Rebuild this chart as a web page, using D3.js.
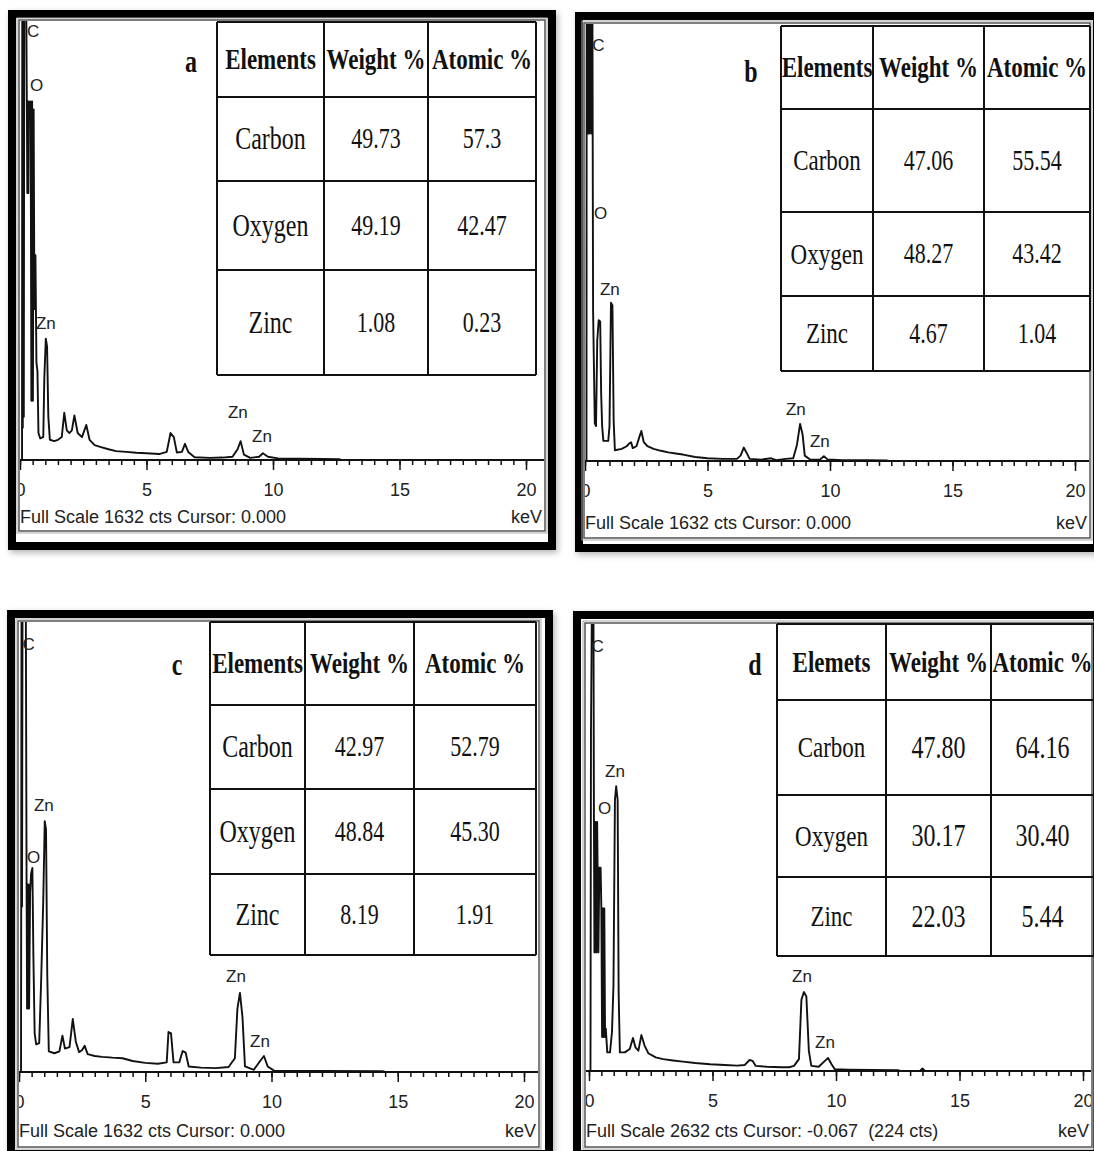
<!DOCTYPE html>
<html>
<head>
<meta charset="utf-8">
<script src="https://cdn.jsdelivr.net/npm/d3@7"></script>
<style>
  body { margin: 0; background: #fff; }
  svg { display: block; }
</style>
</head>
<body>
<div id="chart"></div>
<script>
// ---- data (energy keV, counts) ----
// the low-energy region zig-zags: the instrument trace is drawn as dense black bars there
const specA = [[0,0],[0.08,0],[0.09,1800],[0.11,120],[0.13,1800],[0.15,160],[0.17,1800],[0.24,1800],[0.27,1330],[0.29,990],[0.31,1330],[0.33,990],[0.35,1330],[0.39,1300],[0.42,1330],[0.45,220],[0.48,1330],[0.51,220],[0.54,1300],[0.57,560],[0.61,760],[0.65,360],[0.69,330],[0.73,100],[0.8,80],[0.92,85],[0.96,300],[1.02,450],[1.07,420],[1.12,160],[1.18,75],[1.35,70],[1.5,75],[1.65,85],[1.75,175],[1.85,110],[1.95,100],[2.05,110],[2.15,165],[2.28,100],[2.45,85],[2.62,130],[2.75,75],[2.95,55],[3.2,48],[3.5,40],[3.8,33],[4.2,30],[4.6,27],[5.0,25],[5.5,22],[5.8,30],[5.95,100],[6.08,85],[6.2,28],[6.4,30],[6.52,60],[6.65,30],[6.9,10],[7.5,8],[8.0,9],[8.4,12],[8.6,40],[8.72,70],[8.85,20],[9.1,8],[9.45,12],[9.6,25],[9.8,12],[10.2,6],[11,5],[12,4],[12.6,3],[12.7,0],[20,0]];
const specB = [[0,0],[0.06,0],[0.07,1800],[0.09,1220],[0.11,1800],[0.13,1220],[0.15,1800],[0.17,1220],[0.19,1800],[0.22,1800],[0.25,1220],[0.28,1220],[0.3,1800],[0.33,560],[0.4,140],[0.45,130],[0.5,450],[0.56,525],[0.62,520],[0.66,250],[0.7,130],[0.75,75],[0.95,75],[1.0,130],[1.06,590],[1.12,580],[1.17,150],[1.22,40],[1.5,45],[1.7,55],[1.8,65],[1.88,70],[1.95,48],[2.1,55],[2.22,90],[2.3,112],[2.4,70],[2.55,55],[2.8,45],[3.1,38],[3.4,32],[3.7,28],[4.0,24],[4.5,15],[5.0,10],[5.6,8],[6.2,8],[6.35,20],[6.48,50],[6.6,30],[6.72,8],[7.2,5],[7.6,10],[7.8,3],[8.2,8],[8.5,10],[8.65,60],[8.78,138],[8.88,100],[8.97,20],[9.2,5],[9.6,6],[9.75,18],[9.9,6],[10.5,3],[11.5,3],[12.3,2],[12.4,0],[20,0]];
const specC = [[0,0],[0.08,0],[0.1,1700],[0.12,600],[0.14,1700],[0.27,1700],[0.3,680],[0.32,230],[0.34,680],[0.36,230],[0.38,680],[0.4,230],[0.44,650],[0.48,720],[0.53,740],[0.57,420],[0.62,140],[0.68,100],[0.8,105],[0.88,340],[0.96,620],[1.02,910],[1.07,880],[1.12,350],[1.18,75],[1.4,68],[1.6,75],[1.72,132],[1.82,85],[2.0,90],[2.13,192],[2.25,110],[2.38,72],[2.5,80],[2.6,95],[2.72,65],[3.0,58],[3.3,55],[3.7,52],[4.1,50],[4.5,40],[5.0,33],[5.5,30],[5.85,35],[5.92,145],[6.02,140],[6.12,35],[6.35,35],[6.48,76],[6.6,70],[6.72,20],[7.2,16],[7.8,14],[8.3,18],[8.55,50],[8.65,230],[8.75,287],[8.85,200],[8.95,20],[9.3,8],[9.55,40],[9.7,58],[9.85,20],[10.1,5],[12,4],[14.4,3],[14.5,0],[20,0]];
const specD = [[0,0],[0.06,0],[0.08,2000],[0.12,2800],[0.18,2800],[0.2,1470],[0.22,700],[0.24,1470],[0.26,700],[0.28,1470],[0.3,700],[0.33,1470],[0.38,700],[0.42,1200],[0.47,1200],[0.5,960],[0.53,200],[0.56,960],[0.59,200],[0.62,960],[0.65,200],[0.68,250],[0.74,110],[0.85,110],[0.93,230],[0.99,500],[1.05,1600],[1.1,1680],[1.16,1600],[1.2,460],[1.25,110],[1.45,110],[1.65,130],[1.78,195],[1.88,140],[2.0,120],[2.12,212],[2.25,150],[2.4,105],[2.7,80],[3.0,70],[3.4,62],[3.8,55],[4.3,47],[4.9,40],[5.5,35],[6.0,32],[6.3,35],[6.5,65],[6.62,60],[6.75,30],[7.2,25],[7.8,22],[8.1,22],[8.3,30],[8.5,70],[8.6,420],[8.7,466],[8.8,440],[8.9,120],[9.0,30],[9.3,25],[9.55,60],[9.68,77],[9.82,40],[9.95,10],[10.5,8],[11.5,6],[12.5,5],[12.6,0],[13.4,0],[13.5,15],[13.6,0],[20,0]];

// peak labels: [text, keV, counts]
const peaksA = [["C",0.28,1569],["O",0.4,1369],["Zn",0.63,486],["Zn",8.22,156],["Zn",9.17,67]];
const peaksB = [["C",0.3,1528],["O",0.37,902],["Zn",0.61,618],["Zn",8.2,171],["Zn",9.18,52]];
const peaksC = [["C",0.14,1530],["O",0.32,758],["Zn",0.59,947],["Zn",8.2,326],["Zn",9.15,91]];
const peaksD = [["C",0.1,2473],["O",0.36,1517],["Zn",0.65,1735],["Zn",8.22,525],["Zn",9.15,136]];

const fullScale = [1632, 1632, 1632, 2632];
const footers = ["Full Scale 1632 cts Cursor: 0.000", "Full Scale 1632 cts Cursor: 0.000",
                 "Full Scale 1632 cts Cursor: 0.000", "Full Scale 2632 cts Cursor: -0.067  (224 cts)"];
const panelLetters = ["a", "b", "c", "d"];
const energyTicks = [0, 5, 10, 15, 20];

// composition tables
const headersABC = ["Elements", "Weight %", "Atomic %"];
const headersD = ["Elemets", "Weight %", "Atomic %"];
const elements = ["Carbon", "Oxygen", "Zinc"];
const weightA = ["49.73", "49.19", "1.08"];
const atomicA = ["57.3", "42.47", "0.23"];
const weightB = ["47.06", "48.27", "4.67"];
const atomicB = ["55.54", "43.42", "1.04"];
const weightC = ["42.97", "48.84", "8.19"];
const atomicC = ["52.79", "45.30", "1.91"];
const weightD = ["47.80", "30.17", "22.03"];
const atomicD = ["64.16", "30.40", "5.44"];

// ---- layout of each panel (pixels) ----
const panels = [
  { spec: specA, peaks: peaksA, headers: headersABC, weight: weightA, atomic: atomicA,
    outer: [8, 10, 556, 550], inner: [19, 20, 545, 531], x0: 20, x20: 526, base: 460, top: 20, footY: 523,
    cols: [217, 324, 428, 536], rows: [22, 97, 181, 270, 375], letter: [191, 62], numSize: 22, nameSize: 24 },
  { spec: specB, peaks: peaksB, headers: headersABC, weight: weightB, atomic: atomicB,
    outer: [575, 12, 1101, 552], inner: [584, 23, 1090, 538], x0: 585, x20: 1075, base: 461, top: 23, footY: 529,
    cols: [781, 873, 984, 1090], rows: [26, 109, 212, 296, 371], letter: [751, 72], numSize: 22, nameSize: 23 },
  { spec: specC, peaks: peaksC, headers: headersABC, weight: weightC, atomic: atomicC,
    outer: [7, 610, 553, 1158], inner: [18, 621, 539, 1147], x0: 19, x20: 524, base: 1072, top: 622, footY: 1137,
    cols: [210, 305, 414, 536], rows: [622, 705, 789, 874, 955], letter: [177, 665], numSize: 22, nameSize: 24 },
  { spec: specD, peaks: peaksD, headers: headersD, weight: weightD, atomic: atomicD,
    outer: [573, 611, 1101, 1158], inner: [585, 623, 1092, 1147], x0: 589, x20: 1083, base: 1071, top: 625, footY: 1137,
    cols: [777, 886, 991, 1094], rows: [624, 700, 795, 877, 956], letter: [755, 665], numSize: 24, nameSize: 23 }
];

const svg = d3.select("#chart").append("svg")
  .attr("width", 1094)
  .attr("height", 1151);

const defs = svg.append("defs");
defs.append("filter").attr("id", "shadow")
  .attr("x", "-10%").attr("y", "-10%").attr("width", "120%").attr("height", "120%")
  .append("feGaussianBlur").attr("stdDeviation", 3);

const sans = "'Liberation Sans', Arial, sans-serif";
const serif = "'Liberation Serif', 'Times New Roman', serif";
const VSTRETCH = 1.3; // table text in the figure is stretched vertically

panels.forEach((p, i) => {
  const g = svg.append("g");
  const [ox1, oy1, ox2, oy2] = p.outer;
  const [ix1, iy1, ix2, iy2] = p.inner;

  // drop shadow + thick black frame
  g.append("rect")
    .attr("x", ox1 + 2).attr("y", oy1 + 3)
    .attr("width", ox2 - ox1).attr("height", oy2 - oy1)
    .attr("fill", "#888").attr("opacity", 0.6)
    .attr("filter", "url(#shadow)");
  g.append("rect")
    .attr("x", ox1 + 4).attr("y", oy1 + 4)
    .attr("width", ox2 - ox1 - 8).attr("height", oy2 - oy1 - 8)
    .attr("fill", "#fff").attr("stroke", "#000").attr("stroke-width", 8);

  // inner grey frame (double line)
  g.append("rect")
    .attr("x", ix1 - 2).attr("y", iy1 - 2)
    .attr("width", ix2 - ix1 + 4).attr("height", iy2 - iy1 + 4)
    .attr("fill", "none").attr("stroke", "#aaa").attr("stroke-width", 1);
  g.append("rect")
    .attr("x", ix1).attr("y", iy1)
    .attr("width", ix2 - ix1).attr("height", iy2 - iy1)
    .attr("fill", "none").attr("stroke", "#555").attr("stroke-width", 1.5);

  const clipId = "clip" + i;
  defs.append("clipPath").attr("id", clipId)
    .append("rect")
    .attr("x", ix1 + 1).attr("y", iy1 + 1)
    .attr("width", ix2 - ix1 - 2).attr("height", iy2 - iy1 - 2);

  const plot = g.append("g").attr("clip-path", `url(#${clipId})`);

  const x = d3.scaleLinear().domain([0, 20]).range([p.x0, p.x20]);
  const y = d3.scaleLinear().domain([0, fullScale[i]]).range([p.base, p.top]);

  // energy axis: minor ticks every 0.5 keV, labelled majors every 5 keV
  plot.append("g")
    .attr("transform", `translate(0,${p.base})`)
    .call(d3.axisBottom(x).tickValues(d3.range(0, 20.01, 0.5)).tickSize(5).tickFormat(""))
    .call(a => a.select(".domain").remove())
    .call(a => a.selectAll("line").attr("stroke", "#111").attr("stroke-width", 1.5));
  plot.append("g")
    .attr("transform", `translate(0,${p.base})`)
    .call(d3.axisBottom(x).tickValues(energyTicks).tickSize(10).tickPadding(13))
    .call(a => a.select(".domain").remove())
    .call(a => a.selectAll("line").attr("stroke", "#111").attr("stroke-width", 1.5))
    .call(a => a.selectAll("text").attr("font-family", sans).attr("font-size", 18).attr("fill", "#222"));
  plot.append("line")
    .attr("x1", ix1).attr("x2", ix2)
    .attr("y1", p.base).attr("y2", p.base)
    .attr("stroke", "#111").attr("stroke-width", 2);

  // spectrum
  plot.append("path")
    .datum(p.spec)
    .attr("fill", "none")
    .attr("stroke", "#111")
    .attr("stroke-width", 1.9)
    .attr("stroke-linejoin", "round")
    .attr("d", d3.line().x(d => x(d[0])).y(d => y(d[1])));

  // peak labels
  plot.selectAll("text.peak")
    .data(p.peaks)
    .join("text")
    .attr("class", "peak")
    .attr("x", d => x(d[1]))
    .attr("y", d => y(d[2]))
    .attr("font-family", sans)
    .attr("font-size", 17)
    .attr("fill", "#222")
    .text(d => d[0]);

  // footer
  plot.append("text")
    .attr("x", ix1 + 1).attr("y", p.footY)
    .attr("font-family", sans).attr("font-size", 18).attr("fill", "#222")
    .attr("xml:space", "preserve")
    .style("white-space", "pre")
    .text(footers[i]);
  plot.append("text")
    .attr("x", ix2 - 3).attr("y", p.footY)
    .attr("text-anchor", "end")
    .attr("font-family", sans).attr("font-size", 18).attr("fill", "#222")
    .text("keV");

  // composition table
  const tg = g.append("g");
  const c = p.cols, r = p.rows;
  c.forEach(cx => tg.append("line")
    .attr("x1", cx).attr("x2", cx).attr("y1", r[0]).attr("y2", r[r.length - 1])
    .attr("stroke", "#111").attr("stroke-width", 2));
  r.forEach(ry => tg.append("line")
    .attr("x1", c[0]).attr("x2", c[c.length - 1]).attr("y1", ry).attr("y2", ry)
    .attr("stroke", "#111").attr("stroke-width", 2));

  function cellText(str, col, row, size, bold) {
    const cx = (c[col] + c[col + 1]) / 2;
    const cy = (r[row] + r[row + 1]) / 2;
    tg.append("text")
      .attr("transform", `translate(${cx},${cy}) scale(1,${VSTRETCH})`)
      .attr("text-anchor", "middle")
      .attr("dy", "0.33em")
      .attr("font-family", serif)
      .attr("font-size", size)
      .attr("font-weight", bold ? "bold" : "normal")
      .attr("fill", "#111")
      .text(str);
  }
  p.headers.forEach((h, j) => cellText(h, j, 0, 23, true));
  elements.forEach((e, k) => {
    cellText(e, 0, k + 1, p.nameSize, false);
    cellText(p.weight[k], 1, k + 1, p.numSize, false);
    cellText(p.atomic[k], 2, k + 1, p.numSize, false);
  });

  tg.append("text")
    .attr("transform", `translate(${p.letter[0]},${p.letter[1]}) scale(1,${VSTRETCH})`)
    .attr("text-anchor", "middle")
    .attr("dy", "0.33em")
    .attr("font-family", serif)
    .attr("font-size", 24)
    .attr("font-weight", "bold")
    .attr("fill", "#111")
    .text(panelLetters[i]);
});
</script>
</body>
</html>
